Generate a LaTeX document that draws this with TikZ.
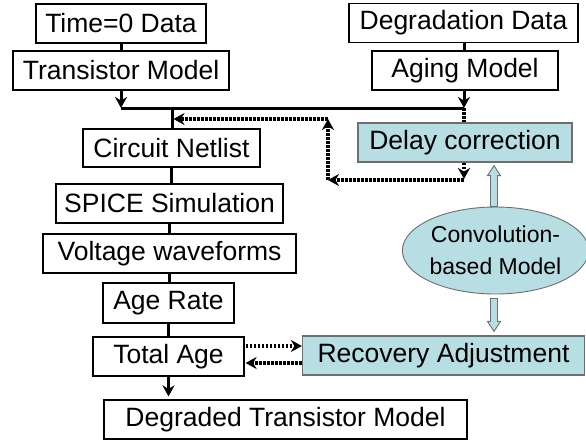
\documentclass[tikz,border=0pt]{standalone}
\usepackage{fontspec}
\setmainfont{Liberation Sans}
\usetikzlibrary{arrows.meta,calc,shapes.geometric}
\definecolor{lblue}{RGB}{183,222,226}
\definecolor{bgray}{RGB}{110,110,110}
\begin{document}
\begin{tikzpicture}[x=1pt,y=-1pt,
  box/.style={draw=black,line width=1.2pt,fill=white,minimum height=39pt,inner sep=0pt,font=\fontsize{26.5}{30}\selectfont},
  bbox/.style={box,fill=lblue,draw=bgray},
  conn/.style={line width=3pt},
  arr/.style={conn,-{Stealth[length=11pt,width=12pt,inset=3.5pt]}},
  dots/.style={line width=3.2pt,dash pattern=on 2.6pt off 1.4pt},
  darr/.style={dots,-{Stealth[length=11pt,width=12pt,inset=3.5pt]}},
  fat/.style={fill=lblue,draw=bgray,line width=0.9pt}]
\useasboundingbox (0,0) rectangle (586,440);
\node[box,minimum width=170pt] (t0) at (121,23.5) {Time=0 Data};
\node[box,minimum width=216pt] (tm) at (121,70.5) {Transistor Model};
\node[box,minimum width=229pt] (dd) at (463.5,23) {Degradation Data};
\node[box,minimum width=186pt] (am) at (465,70.5) {Aging Model};
\node[box,minimum width=177pt,minimum height=38pt] (cn) at (171.5,148) {Circuit Netlist};
\node[bbox,minimum width=214pt] (dc) at (465,142.5) {Delay correction};
\node[box,minimum width=227pt] (sp) at (169.5,203.5) {SPICE Simulation};
\node[box,minimum width=253pt] (vw) at (169.5,253.5) {Voltage waveforms};
\node[box,minimum width=131pt,minimum height=40pt] (ar) at (168.5,303) {Age Rate};
\node[box,minimum width=151pt] (ta) at (168.5,356.5) {Total Age};
\node[bbox,minimum width=282pt] (ra) at (443.5,355.5) {Recovery Adjustment};
\node[box,minimum width=363pt] (dt) at (285.5,419.5) {Degraded Transistor Model};
\node[ellipse,fill=lblue,draw=bgray,line width=0.9pt,minimum width=159pt,minimum height=87pt,inner sep=0pt,align=center,font=\fontsize{23}{32}\selectfont] (el) at (495.5,250.5) {Convolution-\\based Model};
% junctions
\coordinate (jl) at (121,108);
\coordinate (jr) at (464,108);
\coordinate (jn) at (172,108);
\coordinate (c1) at (464,179);
\coordinate (c2) at (328,180);
\coordinate (c3) at (328,119);
% solid connectors
\draw[conn] (t0.south) -- (t0.south |- tm.north);
\draw[arr] (tm.south) -- (jl);
\draw[conn] (jl) -- (jr);
\draw[conn] (jr |- dd.south) -- (jr |- am.north);
\draw[arr] (jr |- am.south) -- (jr);
\draw[conn] (jn) -- (jn |- cn.north);
\draw[conn] (cn.south) -- (cn.south |- sp.north);
\draw[conn] (sp.south) -- (sp.south |- vw.north);
\draw[conn] (vw.south) -- (vw.south |- ar.north);
\draw[conn] (ar.south) -- (ar.south |- ta.north);
\draw[arr] (ta.south) -- ($(ta.south |- dt.north)+(0,-3)$);
% dotted connectors
\draw[dots] (jr) -- (jr |- dc.north);
\draw[darr] (jr |- dc.south) -- (c1);
\draw[darr] (c1 |- c2) -- (c2);
\draw[darr] (c2) -- (c3);
\draw[darr] (c3) -- ($(jn |- c3)+(1.5,0)$);
\coordinate (p1) at ($(ta.east)+(1,-10.5)$);
\coordinate (p2) at ($(ta.east)+(1,6.5)$);
\draw[darr] (p1) -- (p1 -| ra.west);
\draw[darr] (p2 -| ra.west) -- (p2);
% fat arrows
\filldraw[fat] let \p1=(el.north), \p2=(dc.south) in
  (\x1-5pt,\y1) -- (\x1-5pt,\y2-13pt) -- (\x1-8pt,\y2-13pt) -- (\x1-1.5pt,\y2-3pt)
  -- (\x1+5pt,\y2-13pt) -- (\x1+2pt,\y2-13pt) -- (\x1+2pt,\y1) -- cycle;
\filldraw[fat] let \p1=(el.south), \p2=(ra.north) in
  (\x1-5pt,\y1-4pt) -- (\x1-5pt,\y2+14pt) -- (\x1-8pt,\y2+14pt) -- (\x1-1.5pt,\y2+4pt)
  -- (\x1+5pt,\y2+14pt) -- (\x1+2pt,\y2+14pt) -- (\x1+2pt,\y1-4pt) -- cycle;
\end{tikzpicture}
\end{document}
